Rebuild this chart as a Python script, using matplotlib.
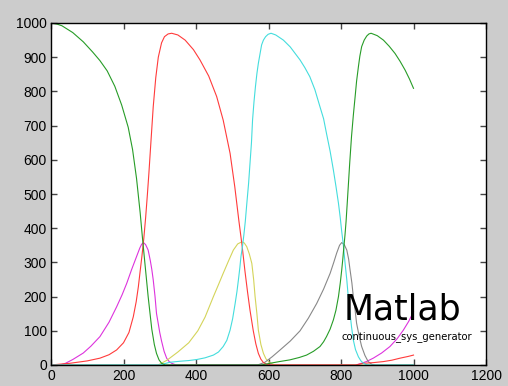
import matplotlib
matplotlib.use('Agg')
import matplotlib.pyplot as plt

# --- data (time, population) ---
green_x = [0, 16, 30, 60, 89, 115, 135, 155, 176, 195, 213, 225, 236, 246, 252, 259, 268, 278, 285,
           291, 298, 305, 315, 580, 604, 630, 659, 685, 705, 724, 742, 752, 760, 770, 779, 786, 793,
           798, 802, 805, 808, 811, 814, 817, 820, 824, 829, 834, 839, 843, 848, 852, 857, 864, 871,
           877, 883, 900, 917, 933, 949, 963, 977, 989, 1000]
green_y = [1000, 997, 992, 972, 945, 915, 890, 860, 815, 760, 695, 630, 545, 445, 375, 298, 200, 105, 60,
           34, 15, 5, 0, 0, 5, 10, 15, 22, 29, 40, 54, 68, 83, 105, 132, 160, 200,
           240, 278, 310, 346, 380, 420, 470, 521, 590, 668, 730, 785, 830, 872, 903, 931, 950, 962,
           968, 970, 963, 950, 932, 911, 888, 862, 836, 809]

red_x = [0, 20, 52, 100, 135, 160, 181, 200, 215, 227, 235, 241, 246, 251, 256, 261, 266, 270, 276,
         282, 289, 296, 305, 313, 323, 333, 350, 370, 393, 411, 435, 457, 475, 494, 507, 518, 527,
         535, 542, 549, 558, 565, 572, 579, 586, 595, 605, 840, 862, 890, 917, 940, 963, 985, 1000]
red_y = [0, 2, 5, 12, 20, 30, 44, 65, 95, 141, 185, 229, 275, 320, 370, 430, 500, 560, 658,
         755, 840, 900, 942, 960, 968, 970, 965, 950, 922, 892, 845, 785, 716, 619, 521, 424, 350,
         275, 215, 160, 100, 62, 34, 17, 7, 2, 0, 0, 5, 7, 10, 14, 20, 25, 29]

cyan_x = [0, 300, 310, 328, 356, 380, 402, 425, 448, 462, 475, 485, 494, 501, 508, 513, 517, 521,
          524, 528, 532, 536, 540, 545, 549, 553, 556, 560, 564, 568, 572, 577, 581, 586, 592, 599,
          607, 620, 641, 660, 687, 700, 714, 728, 742, 752, 760, 770, 779, 786, 793, 798, 802, 806,
          811, 816, 820, 825, 829, 834, 840, 848, 855, 862, 870, 880, 1000]
cyan_y = [0, 0, 3, 8, 11, 13, 16, 21, 29, 38, 54, 72, 102, 135, 180, 215, 249, 285,
          317, 345, 380, 420, 470, 530, 590, 650, 716, 770, 814, 852, 882, 912, 936, 950, 960, 967,
          970, 965, 950, 930, 892, 870, 843, 805, 755, 720, 677, 625, 570, 523, 473, 430, 390, 356,
          300, 249, 200, 151, 112, 73, 45, 24, 12, 5, 1, 0, 0]

magenta_x = [0, 25, 40, 60, 89, 110, 135, 160, 181, 196, 209, 222, 236, 245, 250, 255, 261, 268,
             274, 278, 282, 287, 291, 296, 300, 305, 312, 319, 326, 333, 345, 840, 848, 870, 889,
             912, 935, 955, 972, 987, 1000]
magenta_y = [0, 0, 5, 16, 35, 55, 83, 125, 170, 205, 239, 278, 317, 342, 353, 358, 352, 336,
             305, 280, 249, 200, 151, 120, 95, 70, 40, 20, 10, 5, 0, 0, 2, 10, 20,
             35, 54, 77, 102, 128, 156]

yellow_x = [0, 295, 301, 320, 350, 380, 405, 425, 448, 462, 475, 490, 503, 515, 526, 533, 540, 547,
            554, 559, 563, 568, 572, 579, 586, 593, 600, 612, 620, 1000]
yellow_y = [0, 0, 3, 14, 38, 65, 100, 140, 200, 235, 268, 305, 336, 354, 360, 357, 346, 325,
            297, 250, 200, 150, 102, 60, 34, 18, 10, 2, 0, 0]

gray_x = [0, 570, 590, 610, 632, 660, 687, 710, 733, 752, 770, 780, 788, 796, 802, 809, 816, 821,
          825, 830, 834, 839, 843, 850, 857, 866, 875, 885, 895, 1000]
gray_y = [0, 0, 8, 24, 44, 70, 100, 137, 180, 222, 268, 300, 327, 350, 358, 352, 336, 310,
          278, 240, 200, 160, 122, 85, 54, 28, 10, 2, 0, 0]

x_ticks = [0, 200, 400, 600, 800, 1000, 1200]
y_ticks = [0, 100, 200, 300, 400, 500, 600, 700, 800, 900, 1000]

plt.rcParams['font.family'] = ['Liberation Sans', 'DejaVu Sans']

fig = plt.figure(figsize=(5.08, 3.86), dpi=100, facecolor='#cccccc')
ax = fig.add_axes([51 / 508, 21 / 386, 435 / 508, 342 / 386])
ax.set_facecolor('white')

lw = 0.8
ax.plot(magenta_x, magenta_y, color='#dd33dd', lw=lw)
ax.plot(yellow_x, yellow_y, color='#d4d45a', lw=lw)
ax.plot(gray_x, gray_y, color='#888888', lw=lw)
ax.plot(red_x, red_y, color='#ff3b3b', lw=lw)
ax.plot(cyan_x, cyan_y, color='#44dddd', lw=lw)
ax.plot(green_x, green_y, color='#279c27', lw=lw)

ax.set_xlim(0, 1200)
ax.set_ylim(0, 1000)
ax.set_xticks(x_ticks)
ax.set_yticks(y_ticks)
ax.tick_params(direction='in', length=4, width=1, color='#444444', labelsize=10,
               top=True, right=True, pad=3)
for s in ax.spines.values():
    s.set_color('black')
    s.set_linewidth(1)

ax.text(808, 132, 'Matlab', fontsize=25, color='black', family='DejaVu Sans')
ax.text(801, 76, 'continuous_sys_generator', fontsize=7.2, color='black', family='DejaVu Sans')

fig.savefig('out.png', dpi=100, facecolor=fig.get_facecolor())
